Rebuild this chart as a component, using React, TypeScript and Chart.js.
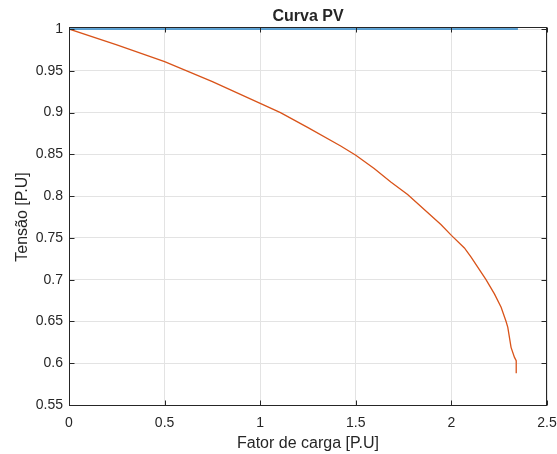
import React, { useEffect, useRef } from "react";
import { Chart, registerables } from "chart.js";

Chart.register(...registerables);

// Load factor (x, P.U) and voltage (y, P.U)
const loadFactor = [0, 0.25, 0.5, 0.75, 1.0, 1.106, 1.25, 1.421, 1.5, 1.596, 1.683, 1.771, 1.858, 1.945, 2.0, 2.068, 2.103, 2.181, 2.225, 2.26, 2.286, 2.295, 2.312, 2.33, 2.339, 2.339];
const voltage = [1.0, 0.981, 0.961, 0.937, 0.911, 0.9, 0.882, 0.86, 0.849, 0.833, 0.817, 0.802, 0.784, 0.766, 0.753, 0.738, 0.727, 0.7, 0.683, 0.667, 0.65, 0.643, 0.619, 0.607, 0.603, 0.588];

// Flat reference line (blue)
const flatX = [0, 2.348];
const flatY = [1, 1];

const titleText = "Curva PV";
const xTitle = "Fator de carga [P.U]";
const yTitle = "Tensão [P.U]";

const xMin = 0;
const xMax = 2.5;
const xStep = 0.5;
const yMin = 0.55;
const yMax = 1;
const yStep = 0.05;

const FONT = '"Liberation Sans", Arial, Helvetica, sans-serif';
const TEXT = "#262626";

const fmt = (v: number) => String(Math.round(v * 100) / 100);

const framePlugin = {
  id: "frame",
  afterDraw(chart: any) {
    const { ctx, chartArea } = chart;
    const { left, top, right, bottom } = chartArea;
    const xs = chart.scales.x;
    const ys = chart.scales.y;
    ctx.save();
    ctx.strokeStyle = TEXT;
    ctx.lineWidth = 1;
    const L = Math.round(left) + 0.5;
    const T = Math.round(top) - 1.5;
    const R = Math.round(right) - 0.5;
    const B = Math.round(bottom) + 0.5;
    ctx.strokeRect(L, T, R - L, B - T);
    // inward ticks
    const tl = 5;
    ctx.beginPath();
    xs.ticks.forEach((t: any) => {
      const px = Math.round(xs.getPixelForValue(t.value)) + 0.5;
      ctx.moveTo(px, B);
      ctx.lineTo(px, B - tl);
      ctx.moveTo(px, T);
      ctx.lineTo(px, T + tl);
    });
    ys.ticks.forEach((t: any) => {
      const py = Math.round(ys.getPixelForValue(t.value)) + 0.5;
      ctx.moveTo(L, py);
      ctx.lineTo(L + tl, py);
      ctx.moveTo(R, py);
      ctx.lineTo(R - tl, py);
    });
    ctx.stroke();

    ctx.fillStyle = TEXT;
    const cx = (left + right) / 2;
    const cy = (top + bottom) / 2;
    ctx.textAlign = "center";
    ctx.textBaseline = "alphabetic";
    ctx.font = `bold 16px ${FONT}`;
    ctx.fillText(titleText, cx, 21);
    ctx.font = `16px ${FONT}`;
    ctx.fillText(xTitle, cx, 448);
    ctx.translate(27, cy);
    ctx.rotate(-Math.PI / 2);
    ctx.fillText(yTitle, 0, 0);
    ctx.restore();
  },
};

export default function App() {
  const ref = useRef<HTMLCanvasElement | null>(null);

  useEffect(() => {
    document.body.style.margin = "0";
    const canvas = ref.current;
    if (!canvas) return;
    const chart = new Chart(canvas, {
      type: "line",
      data: {
        datasets: [
          {
            label: "Referência",
            data: flatX.map((x, i) => ({ x, y: flatY[i] })),
            borderColor: "#2a86c8",
            borderWidth: 1.5,
            pointRadius: 0,
            fill: false,
            tension: 0,
            clip: false,
          },
          {
            label: "Curva PV",
            data: loadFactor.map((x, i) => ({ x, y: voltage[i] })),
            borderColor: "#D95319",
            borderWidth: 1.3,
            pointRadius: 0,
            fill: false,
            tension: 0,
          },
        ],
      },
      options: {
        animation: false,
        responsive: false,
        maintainAspectRatio: false,
        layout: { padding: { top: 29, right: 10, left: 0, bottom: 0 } },
        plugins: {
          legend: { display: false },
          title: { display: false },
          tooltip: { enabled: false },
        },
        scales: {
          x: {
            type: "linear",
            min: xMin,
            max: xMax,
            afterFit: (s: any) => {
              s.height = 49;
              s.paddingLeft = 0;
              s.paddingRight = 0;
            },
            afterBuildTicks: (s: any) => {
              const t = [];
              for (let v = xMin; v <= xMax + 1e-9; v += xStep) t.push({ value: Math.round(v * 100) / 100 });
              s.ticks = t;
            },
            ticks: {
              callback: (v: any) => fmt(Number(v)),
              color: TEXT,
              font: { family: FONT, size: 14 },
              padding: 10,
              maxRotation: 0,
            },
            grid: { color: "#e3e3e3", drawTicks: false, lineWidth: 1 },
            border: { display: false },
          },
          y: {
            type: "linear",
            min: yMin,
            max: yMax,
            afterFit: (s: any) => {
              s.width = 69;
              s.paddingTop = 0;
              s.paddingBottom = 0;
            },
            afterBuildTicks: (s: any) => {
              const t = [];
              for (let v = yMin; v <= yMax + 1e-9; v += yStep) t.push({ value: Math.round(v * 100) / 100 });
              s.ticks = t;
            },
            ticks: {
              callback: (v: any) => fmt(Number(v)),
              color: TEXT,
              font: { family: FONT, size: 14 },
              padding: 6,
            },
            grid: { color: "#e3e3e3", drawTicks: false, lineWidth: 1 },
            border: { display: false },
          },
        },
      },
      plugins: [framePlugin],
    });
    return () => chart.destroy();
  }, []);

  return (
    <div style={{ width: 557, height: 454, background: "#fff" }}>
      <canvas ref={ref} width={557} height={454} style={{ display: "block" }} />
    </div>
  );
}
